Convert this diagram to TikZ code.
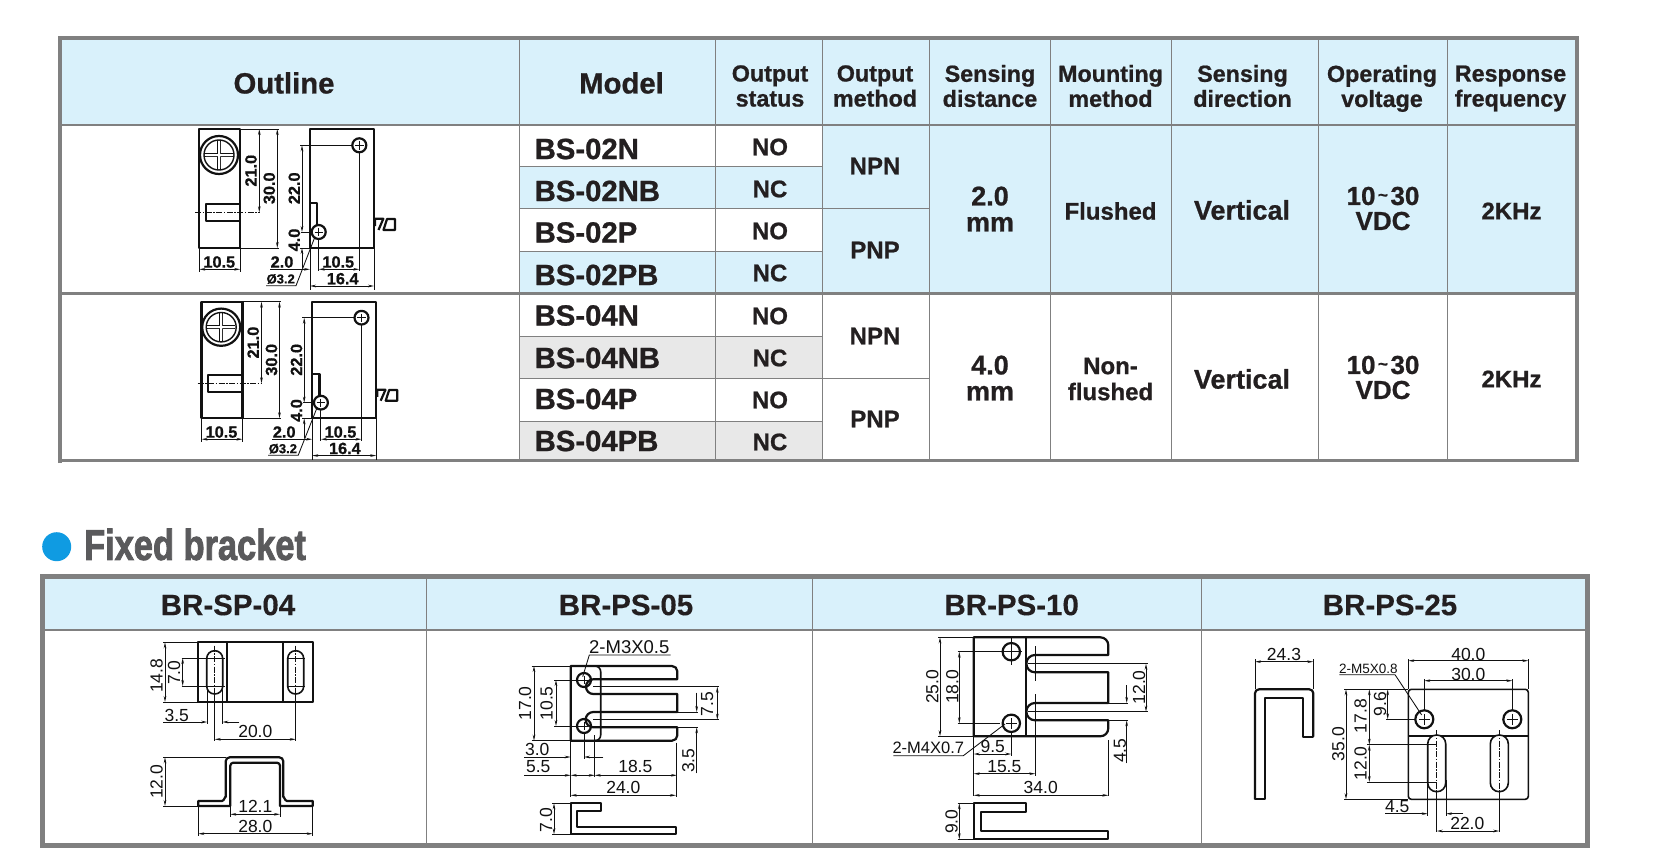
\documentclass[tikz,border=0pt]{standalone}
\usepackage{fontspec}
\usetikzlibrary{arrows.meta}
\setmainfont{Liberation Sans}
\newfontfamily\hb{Liberation Sans Bold}[FakeBold=0.8]
\newfontfamily\hbb{Liberation Sans Bold}[FakeBold=2.2]
\newfontfamily\bb{Liberation Sans Bold}[FakeBold=0.2]
\definecolor{lb}{HTML}{D9F1FB}
\definecolor{gc}{HTML}{E8E8E8}
\definecolor{bd}{HTML}{808080}
\definecolor{tx}{HTML}{231F20}
\definecolor{ink}{HTML}{111111}
\definecolor{dotblue}{HTML}{0F9BE2}
\definecolor{titlegrey}{HTML}{5A5A5C}
\tikzset{
  ol/.style={draw=ink,line width=2.2pt,line join=round},
  ol2/.style={draw=ink,line width=1.6pt,line join=round},
  extln/.style={draw=ink,line width=.85pt},
  dimln/.style={draw=ink,line width=.85pt,{Stealth[length=6pt,width=2.6pt]}-{Stealth[length=6pt,width=2.6pt]}},
  onearrow/.style={draw=ink,line width=.85pt,-{Stealth[length=6pt,width=2.6pt]}},
  centerln/.style={draw=ink,line width=.7pt,dash pattern=on 6pt off 1.5pt on 1.5pt off 1.5pt},
  cellbig/.style={inner sep=0pt,text=tx,font={\hb\fontsize{29.3}{29.3}\selectfont}},
  cellhead/.style={inner sep=0pt,text=tx,align=center,font={\hb\fontsize{23.3}{25}\selectfont}},
  cellval/.style={inner sep=0pt,text=tx,align=center,font={\hb\fontsize{24}{26}\selectfont}},
  cellnum/.style={inner sep=0pt,text=tx,align=center,font={\hb\fontsize{27}{26}\selectfont}},
  brhead/.style={inner sep=0pt,text=tx,font={\bb\fontsize{29.5}{30}\selectfont}},
  olabel/.style={inner sep=0pt,text=ink,font={\hb\fontsize{16.3}{16}\selectfont}},
  blabel/.style={inner sep=0pt,text=ink,font={\fontsize{17.5}{18}\selectfont}},
}
\newcounter{nd}
\newcommand\cell[4]{\stepcounter{nd}\node[#1] (n\arabic{nd}) at (#2,#3) {#4};}
\newcommand\tildeglyph{\kern2.5pt\raisebox{.3ex}{\fontsize{17}{17}\selectfont\textasciitilde}\kern2.5pt}
\newcommand\hole[3]{%
  \draw[ol] (#1,#2) circle (#3);
  \draw[extln] (#1-#3*.6,#2) -- (#1+#3*.6,#2) (#1,#2-#3*.6) -- (#1,#2+#3*.6);}
\newcommand\slot[4]{% cx, ytop, ybot, halfw
  \draw[ol2,fill=white,rounded corners=#4*.98] (#1-#4,#2) rectangle (#1+#4,#3);
  \draw[centerln] (#1,#2-5) -- (#1,#3+4);}
\newcommand\sensor{%
  \draw[ol] (199.3,129) rectangle (240.3,248);
  \draw[ol] (219,155) circle (19);
  \draw[draw=ink,line width=1.4pt] (219,155) circle (15);
  \draw[draw=ink,line width=.9pt] (217.3,141) -- (217.3,169) (220.7,141) -- (220.7,169) (205,153.3) -- (233,153.3) (205,156.7) -- (233,156.7);
  \fill[white] (218,142) rectangle (220,168) (206,154) rectangle (232,156);
  \draw[ol] (240.3,203.7) -- (206,203.7) -- (206,221.3) -- (240.3,221.3);
  \draw[centerln] (195.3,212.3) -- (260,212.3);
  \draw[extln] (240.3,129) -- (279,129) (240.3,248) -- (279,248);
  \draw[dimln] (259.3,129) -- (259.3,212.3);
  \draw[dimln] (277.3,129) -- (277.3,248);
  \cell{olabel,rotate=90}{251}{170.7}{21.0}
  \cell{olabel,rotate=90}{269.3}{188.3}{30.0}
  \draw[extln] (199.3,248) -- (199.3,272) (240.3,248) -- (240.3,272);
  \draw[dimln] (199.3,269.3) -- (240.3,269.3);
  \cell{olabel}{219.3}{262}{10.5}
  \draw[ol] (310,129) rectangle (374,248);
  \hole{359.3}{145.3}{7}
  \draw[extln] (359.3,152) -- (359.3,271) (300,145.3) -- (352,145.3) (300.7,232) -- (312,232) (300,248) -- (310,248);
  \draw[onearrow] (302,190) -- (302,145.3);
  \draw[onearrow] (302,190) -- (302,232);
  \draw[onearrow] (302,268) -- (302,248);
  \cell{olabel,rotate=90}{294.3}{188.3}{22.0}
  \cell{olabel,rotate=90}{294.3}{240}{4.0}
  \draw[ol] (310,226.7) -- (310,202.7) -- (317.3,202.7) -- (317.3,226);
  \hole{318.7}{232}{7}
  \draw[extln] (315,236.7) -- (296,285.7) -- (266,285.7);
  \cell{inner sep=0pt,text=ink,font={\hb\fontsize{13}{13}\selectfont}}{280.7}{279}{Ø3.2}
  \cell{olabel}{282}{262}{2.0}
  \draw[extln] (318.7,239) -- (318.7,271) (310,248) -- (310,290) (374,248) -- (374,290);
  \draw[onearrow] (270,269.3) -- (310,269.3);
  \draw[dimln] (318.7,269.3) -- (359.3,269.3);
  \cell{olabel}{338.3}{262}{10.5}
  \draw[dimln] (310,286) -- (374,286);
  \cell{olabel}{342.7}{278.7}{16.4}
  \draw[ol] (375,226) -- (375,218.8) -- (383.3,218.8) -- (378.5,230) (387,219) -- (395,219) -- (395,230) -- (383.5,230) -- cycle;
}
\begin{document}
\begin{tikzpicture}[x=1pt,y=-1pt]
\useasboundingbox (0,0) rectangle (1654,864);
\fill[white] (0,0) rectangle (1654,864);
% ---- table 1 fills
\fill[lb] (60,38) rectangle (1577,125);
\fill[lb] (822.6,125) rectangle (1577,293.7);
\fill[lb] (519.3,166.3) rectangle (822.6,208.3);
\fill[lb] (519.3,251.3) rectangle (822.6,293.7);
\fill[gc] (519.3,336.3) rectangle (822.6,378.3);
\fill[gc] (519.3,421.3) rectangle (822.6,460);
% ---- table 1 grid
\draw[bd,line width=1.3pt] (519.3,38) -- (519.3,461) (715.5,38) -- (715.5,461) (822.6,38) -- (822.6,461) (929.4,38) -- (929.4,461) (1050.3,38) -- (1050.3,461) (1171.4,38) -- (1171.4,461) (1318.2,38) -- (1318.2,461) (1447.5,38) -- (1447.5,461);
\draw[bd,line width=1.3pt] (519.3,166.3) -- (822.6,166.3) (519.3,208.3) -- (929.4,208.3) (519.3,251.3) -- (822.6,251.3) (519.3,336.3) -- (822.6,336.3) (519.3,378.3) -- (929.4,378.3) (519.3,421.3) -- (822.6,421.3);
\draw[bd,line width=1.8pt] (60,125) -- (1577,125);
\draw[bd,line width=3.5pt] (60,293.7) -- (1577,293.7);
\draw[bd,line width=2.8pt] (58,460.5) -- (1579,460.5);
\draw[bd,line width=4pt] (59.5,463) -- (59.5,38) -- (1577,38) -- (1577,462);
% ---- table 1 text
\cell{cellbig}{284}{83}{Outline}
\cell{cellbig}{621.5}{83}{Model}
\cell{cellhead}{770}{86}{Output\\status}
\cell{cellhead}{875}{86}{Output\\method}
\cell{cellhead}{990}{86}{Sensing\\distance}
\cell{cellhead}{1110.5}{86}{Mounting\\method}
\cell{cellhead}{1242.5}{86}{Sensing\\direction}
\cell{cellhead}{1382}{88.5}{Operating\\voltage}
\cell{cellhead}{1510.5}{88.5}{Response\\frequency}
\cell{cellbig,anchor=west}{534.5}{149}{BS-02N}
\cell{cellbig,anchor=west}{534.5}{191}{BS-02NB}
\cell{cellbig,anchor=west}{534.5}{232.5}{BS-02P}
\cell{cellbig,anchor=west}{534.5}{275}{BS-02PB}
\cell{cellbig,anchor=west}{534.5}{315.5}{BS-04N}
\cell{cellbig,anchor=west}{534.5}{358}{BS-04NB}
\cell{cellbig,anchor=west}{534.5}{399}{BS-04P}
\cell{cellbig,anchor=west}{534.5}{441}{BS-04PB}
\cell{cellval}{770}{147}{NO}
\cell{cellval}{770}{189}{NC}
\cell{cellval}{770}{231}{NO}
\cell{cellval}{770}{273}{NC}
\cell{cellval}{770}{316}{NO}
\cell{cellval}{770}{358}{NC}
\cell{cellval}{770}{400}{NO}
\cell{cellval}{770}{442}{NC}
\cell{cellval}{875}{166}{NPN}
\cell{cellval}{875}{250}{PNP}
\cell{cellval}{875}{336}{NPN}
\cell{cellval}{875}{419}{PNP}
\cell{cellnum}{990}{209}{2.0\\mm}
\cell{cellnum}{990}{378}{4.0\\mm}
\cell{cellval}{1110.5}{211}{Flushed}
\cell{cellval}{1110.5}{379}{Non-\\flushed}
\cell{cellnum}{1242}{210}{Vertical}
\cell{cellnum}{1242}{379}{Vertical}
\cell{cellval,font={\hb\fontsize{26}{25}\selectfont}}{1383}{208.5}{10\tildeglyph 30\\VDC}
\cell{cellval,font={\hb\fontsize{26}{25}\selectfont}}{1383}{377.5}{10\tildeglyph 30\\VDC}
\cell{cellval}{1511.5}{211}{2KHz}
\cell{cellval}{1511.5}{379}{2KHz}
% ---- outlines
\sensor
\begin{scope}[shift={(2.2,175.3)},yscale=.98]
\sensor
\end{scope}
% ---- Fixed bracket title
\fill[dotblue] (56.7,546.7) circle (14.5);
\cell{inner sep=0pt,anchor=west,text=titlegrey}{84}{544.5}{\scalebox{.8}[1]{\hbb\fontsize{43}{43}\selectfont Fixed bracket}}
% ---- table 2
\fill[lb] (42,576.5) rectangle (1587,630);
\draw[bd,line width=1.5pt] (426.7,576) -- (426.7,845) (812.7,576) -- (812.7,845) (1201.7,576) -- (1201.7,845) (42,630) -- (1587,630);
\draw[bd,line width=5pt] (42,576.5) rectangle (1587,845);
\cell{brhead}{228}{605}{BR-SP-04}
\cell{brhead}{626}{605}{BR-PS-05}
\cell{brhead}{1011.7}{605}{BR-PS-10}
\cell{brhead}{1390}{605}{BR-PS-25}
% ---- BR-SP-04
\draw[ol] (198.3,642.3) rectangle (312.7,702) (227,642.3) -- (227,702) (283.3,642.3) -- (283.3,702);
\slot{214.7}{650.7}{694}{8}
\slot{295.7}{650.7}{694}{8}
\draw[extln] (181.7,658) -- (225,658) (181.7,686) -- (225,686) (286.7,658) -- (305,658) (286.7,686) -- (305,686);
\draw[extln] (163,642.3) -- (198.3,642.3) (163,702) -- (198.3,702);
\draw[dimln] (165,642.3) -- (165,702);
\cell{blabel,rotate=90}{156.7}{675.7}{14.8}
\draw[dimln] (182.7,658) -- (182.7,686);
\cell{blabel,rotate=90}{174}{672.7}{7.0}
\cell{blabel}{176.7}{715}{3.5}
\draw[onearrow] (163.3,722) -- (207.3,722);
\draw[onearrow] (239.3,722) -- (222.3,722);
\draw[extln] (207.3,690) -- (207.3,724) (222.3,690) -- (222.3,724) (214.7,694) -- (214.7,741) (295.7,694) -- (295.7,741);
\draw[dimln] (214.7,739.3) -- (295.7,739.3);
\cell{blabel}{255.3}{731}{20.0}
\draw[ol] (198.3,806) -- (198.3,801) -- (222,801) to[out=0,in=90] (225.7,797) [rounded corners=4pt] -- (225.7,757.3) -- (283.3,757.3) [sharp corners] -- (283.3,797) to[out=90,in=180] (287,801) -- (312.7,801) -- (312.7,806) -- (280,806) [rounded corners=3pt] -- (280,762.7) -- (230.3,762.7) [sharp corners] -- (230.3,806) -- cycle;
\draw[extln] (163.3,757.3) -- (226,757.3) (163.3,806) -- (198.3,806);
\draw[dimln] (165,757.3) -- (165,806);
\cell{blabel,rotate=90}{156.7}{781.7}{12.0}
\draw[extln] (230.3,806) -- (230.3,817) (280,806) -- (280,817) (198.3,806) -- (198.3,836) (312.7,806) -- (312.7,836);
\draw[dimln] (230.3,814.3) -- (280,814.3);
\cell{blabel}{255.3}{806.7}{12.1}
\draw[dimln] (198.3,833.7) -- (312.7,833.7);
\cell{blabel}{255.3}{826}{28.0}
% ---- BR-PS-05
\draw[ol] (570.7,666) -- (672,666) arc (-90:0:5.3) -- (677.3,679.3) -- (593.3,679.3) arc (-90:-270:7.35) -- (677.3,694) -- (677.3,712) -- (593.3,712) arc (-90:-270:7.65) -- (677.3,727.3) -- (677.3,735.4) arc (0:90:5.3) -- (570.7,740.7) -- cycle;
\draw[ol2] (595,666) arc (-90:0:5.7) -- (600.7,735) arc (0:90:5.7);
\hole{584}{680}{7}
\hole{584}{726}{7}
\cell{blabel,font={\fontsize{18.5}{18}\selectfont}}{629.3}{647}{2-M3X0.5}
\draw[extln] (582.7,676.7) -- (589.3,655) -- (670.7,655);
\draw[extln] (531.7,666) -- (570.7,666) (531.7,740.7) -- (570.7,740.7) (554,680) -- (584,680) (554,726) -- (584,726);
\draw[dimln] (534,666) -- (534,740.7);
\cell{blabel,rotate=90}{525}{703.3}{17.0}
\draw[dimln] (556,680) -- (556,726);
\cell{blabel,rotate=90}{546.7}{703.3}{10.5}
\draw[extln] (593,686.7) -- (719.3,686.7) (593,719.7) -- (719.3,719.7) (677.3,712) -- (698,712) (677.3,727.3) -- (698,727.3);
\draw[dimln] (717.3,686.7) -- (717.3,719.7);
\cell{blabel,rotate=90}{707.3}{704.3}{7.5}
\draw[onearrow] (696.7,692.7) -- (696.7,712);
\draw[onearrow] (696.7,773.3) -- (696.7,727.3);
\cell{blabel,rotate=90}{688.3}{760.7}{3.5}
\draw[extln] (584,733) -- (584,759.3) (594.7,735) -- (594.7,776.7) (570.7,740.7) -- (570.7,796.7) (676,742.7) -- (676,796.7);
\cell{blabel}{537.3}{749}{3.0}
\draw[onearrow] (524.3,757) -- (570.7,757);
\draw[onearrow] (603.3,757) -- (584,757);
\cell{blabel}{538.3}{766.7}{5.5}
\draw[onearrow] (524.3,775.3) -- (570.7,775.3);
\draw[dimln] (570.7,775.3) -- (594.7,775.3);
\draw[dimln] (594.7,775.3) -- (677,775.3);
\cell{blabel}{635.3}{766.7}{18.5}
\draw[dimln] (570.7,795.3) -- (676,795.3);
\cell{blabel}{623.3}{787.3}{24.0}
\draw[ol] (570.7,803.3) -- (600.7,803.3) -- (600.7,810.7) -- (576.7,810.7) -- (576.7,826.7) -- (676,826.7) -- (676,834.3) -- (570.7,834.3) -- cycle;
\draw[extln] (552,803.3) -- (570.7,803.3) (552,834.3) -- (570.7,834.3);
\draw[dimln] (554,803.3) -- (554,834.3);
\cell{blabel,rotate=90}{546}{820}{7.0}
% ---- BR-PS-10
\draw[ol] (973.7,637.3) -- (1100.3,637.3) arc (-90:0:8) -- (1108.3,655) -- (1035,655) arc (-90:-270:8.65) -- (1108.3,672.3) -- (1108.3,703) -- (1035,703) arc (-90:-270:8.65) -- (1108.3,720.3) -- (1108.3,728.3) arc (0:90:8) -- (973.7,736.3) -- cycle;
\draw[ol] (1026.3,637.3) -- (1026.3,736.3);
\hole{1011.3}{651.7}{8.7}
\hole{1011.3}{723.3}{8.7}
\draw[extln] (1011.3,638) -- (1011.3,665) (1000,651.7) -- (1022,651.7);
\draw[extln] (1035,646) -- (1035,681) (1035,694) -- (1035,776) (1028,663.7) -- (1148.3,663.7) (1028,711.7) -- (1148.3,711.7);
\draw[extln] (938.3,637.3) -- (973.7,637.3) (938.3,736.3) -- (973.7,736.3) (957.7,651.7) -- (1000,651.7) (957.7,723.3) -- (1000,723.3);
\draw[dimln] (940,637.3) -- (940,736.3);
\cell{blabel,rotate=90}{932.3}{686.7}{25.0}
\draw[dimln] (959.3,651.7) -- (959.3,723.3);
\cell{blabel,rotate=90}{952.3}{686.7}{18.0}
\draw[dimln] (1146,663.7) -- (1146,711.7);
\cell{blabel,rotate=90}{1139}{687.3}{12.0}
\draw[extln] (1108.3,703) -- (1128,703) (1108.3,720.3) -- (1128,720.3);
\draw[onearrow] (1126.7,685) -- (1126.7,703);
\draw[onearrow] (1126.7,763.3) -- (1126.7,720.3);
\cell{blabel,rotate=90}{1120}{750.7}{4.5}
\cell{blabel,font={\fontsize{16.5}{17}\selectfont}}{928.3}{748}{2-M4X0.7}
\draw[extln] (893.3,755.7) -- (963.3,755.7) -- (1005,724);
\draw[extln] (1011.3,732) -- (1011.3,756) (973.7,736.3) -- (973.7,796) (1108.3,740) -- (1108.3,796);
\draw[dimln] (973.7,754) -- (1011.3,754);
\cell{blabel}{992.7}{746.7}{9.5}
\draw[dimln] (973.7,773.7) -- (1035.3,773.7);
\cell{blabel}{1004.3}{766.7}{15.5}
\draw[dimln] (973.7,795.3) -- (1108.3,795.3);
\cell{blabel}{1040.7}{787.3}{34.0}
\draw[ol] (973.7,803.3) -- (1026.3,803.3) -- (1026.3,812) -- (981.3,812) -- (981.3,831) -- (1108.3,831) -- (1108.3,839.3) -- (973.7,839.3) -- cycle;
\draw[extln] (957.7,803.3) -- (973.7,803.3) (957.7,839.3) -- (973.7,839.3);
\draw[dimln] (959.3,803.3) -- (959.3,839.3);
\cell{blabel,rotate=90}{951.7}{821.7}{9.0}
% ---- BR-PS-25
\draw[ol,rounded corners=4pt] (1255,799.3) -- (1255,689.3) -- (1313.3,689.3) -- (1313.3,736.7);
\draw[ol] (1313.3,725) -- (1313.3,736.7) -- (1302.7,736.7) -- (1302.7,698.3) -- (1265,698.3) -- (1265,799.3) -- (1255,799.3) -- (1255,780);
\draw[extln] (1255,659.3) -- (1255,689) (1313.3,659.3) -- (1313.3,689);
\draw[dimln] (1255,661.7) -- (1313.3,661.7);
\cell{blabel}{1284}{654}{24.3}
\draw[ol2,rounded corners=3pt] (1408.3,689.3) -- (1528.3,689.3) -- (1528.3,799.3) -- (1408.3,799.3) -- cycle;
\draw[ol2] (1408.3,736) -- (1528.3,736);
\hole{1424.3}{719.3}{9}
\hole{1512.3}{719.3}{9}
\slot{1436.7}{735}{791.7}{9}
\slot{1499.3}{735}{791.7}{9}
\draw[extln] (1408.3,659) -- (1408.3,689) (1528.3,659) -- (1528.3,689) (1424.3,679) -- (1424.3,710) (1512.3,679) -- (1512.3,710);
\draw[dimln] (1408.3,660.7) -- (1528.3,660.7);
\cell{blabel}{1468.3}{654}{40.0}
\draw[dimln] (1424.3,680.7) -- (1512.3,680.7);
\cell{blabel}{1468.3}{674}{30.0}
\cell{inner sep=0pt,text=ink,font={\fontsize{13.5}{14}\selectfont}}{1368.3}{668.5}{2-M5X0.8}
\draw[extln] (1339.3,674.7) -- (1395,674.7) -- (1421.7,715);
\draw[extln] (1344,689.3) -- (1408.3,689.3) (1344,799.3) -- (1408.3,799.3) (1386,719.3) -- (1415,719.3) (1367,744.7) -- (1436.7,744.7) (1367,782) -- (1436.7,782);
\draw[dimln] (1346,689.3) -- (1346,799.3);
\cell{blabel,rotate=90}{1338.3}{744}{35.0}
\draw[dimln] (1369.3,689.3) -- (1369.3,744.7);
\cell{blabel,rotate=90}{1360.7}{716}{17.8}
\draw[dimln] (1387.7,689.3) -- (1387.7,719.3);
\cell{blabel,rotate=90}{1380}{704.3}{9.6}
\draw[dimln] (1369.3,744.7) -- (1369.3,782);
\cell{blabel,rotate=90}{1360.7}{763.3}{12.0}
\draw[extln] (1427.7,780) -- (1427.7,816) (1446,780) -- (1446,816) (1436.7,791) -- (1436.7,832) (1499.3,791) -- (1499.3,832);
\cell{blabel}{1397.3}{806.7}{4.5}
\draw[onearrow] (1385,813.7) -- (1427.7,813.7);
\draw[onearrow] (1463.3,813.7) -- (1446,813.7);
\draw[dimln] (1436.7,831) -- (1499.3,831);
\cell{blabel}{1467.3}{823.3}{22.0}
\end{tikzpicture}
\end{document}
